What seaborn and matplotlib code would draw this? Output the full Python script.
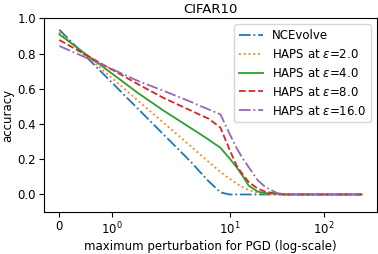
import numpy as np
import pandas as pd
import matplotlib
matplotlib.use("Agg")
import matplotlib.pyplot as plt
import matplotlib.ticker as mticker
import seaborn as sns

# maximum perturbation values (x axis)
eps = [0, 0.5, 1, 1.5, 2, 3, 4, 5, 6, 8, 10, 12, 14, 16, 20, 24, 32, 40, 64, 128, 255]

nce_evolve = [0.935, 0.786, 0.637, 0.488, 0.339, 0.245, 0.178, 0.120, 0.075, 0.012,
              0.0, 0.0, 0.0, 0.0, 0.0, 0.0, 0.0, 0.0, 0.0, 0.0, 0.0]
haps_2 = [0.92, 0.791, 0.663, 0.534, 0.406, 0.325, 0.267, 0.222, 0.185, 0.128,
          0.09, 0.06, 0.04, 0.025, 0.01, 0.003, 0.0, 0.0, 0.0, 0.0, 0.0]
haps_4 = [0.909, 0.798, 0.688, 0.577, 0.475, 0.415, 0.372, 0.339, 0.311, 0.265,
          0.205, 0.152, 0.10, 0.05, 0.016, 0.008, 0.003, 0.0, 0.0, 0.0, 0.0]
haps_8 = [0.877, 0.793, 0.710, 0.627, 0.547, 0.504, 0.473, 0.449, 0.430, 0.380,
          0.255, 0.16, 0.11, 0.07, 0.033, 0.016, 0.004, 0.0, 0.0, 0.0, 0.0]
haps_16 = [0.843, 0.778, 0.713, 0.645, 0.588, 0.550, 0.523, 0.500, 0.483, 0.455,
           0.345, 0.26, 0.20, 0.155, 0.08, 0.043, 0.008, 0.0, 0.0, 0.0, 0.0]

labels = ["NCEvolve", r"HAPS at $\varepsilon$=2.0", r"HAPS at $\varepsilon$=4.0",
          r"HAPS at $\varepsilon$=8.0", r"HAPS at $\varepsilon$=16.0"]
series = [nce_evolve, haps_2, haps_4, haps_8, haps_16]
styles = ["-.", ":", "-", "--", "-."]
colors = sns.color_palette("tab10", 5)

xticks = [0, 1, 10, 100]

fig = plt.figure(figsize=(3.78, 2.54), dpi=100)
ax = fig.add_axes([0.117, 0.165, 0.88, 0.763])

for lab, vals, ls, c in zip(labels, series, styles, colors):
    df = pd.DataFrame({"eps": eps, "acc": vals})
    sns.lineplot(data=df, x="eps", y="acc", ax=ax, label=lab, color=c,
                 linestyle=ls, linewidth=1.3)

ax.set_xscale("symlog", linthresh=2, linscale=1)
ax.set_xticks(xticks)
ax.xaxis.set_minor_locator(mticker.NullLocator())
ax.set_ylim(-0.1, 1.0)
ax.set_yticks([0.0, 0.2, 0.4, 0.6, 0.8, 1.0])
ax.tick_params(labelsize=8.5, pad=2.5)
ax.set_title("CIFAR10", fontsize=9.5, pad=4)
ax.set_xlabel("maximum perturbation for PGD (log-scale)", fontsize=8.5, labelpad=2)
ax.set_ylabel("accuracy", fontsize=8.5, labelpad=2)
ax.legend(loc="upper right", fontsize=8.5)

fig.savefig("out.png", dpi=100)
